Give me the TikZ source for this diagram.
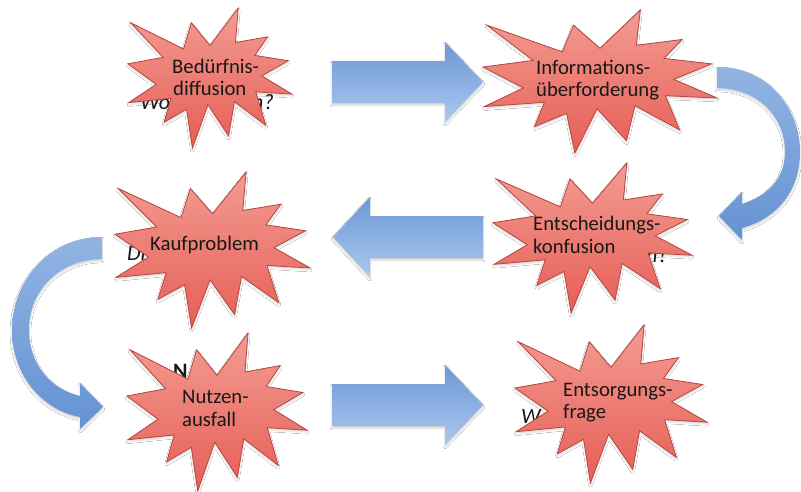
\documentclass[tikz,border=0pt]{standalone}
\usepackage{fontspec}
\setmainfont{Carlito}
\usetikzlibrary{shadows.blur}
\definecolor{starfillA}{RGB}{243,156,146}
\definecolor{starfillB}{RGB}{230,94,86}
\definecolor{starline}{RGB}{186,68,62}
\definecolor{blueA}{RGB}{108,152,213}
\definecolor{blueB}{RGB}{170,200,238}
\definecolor{blueC}{RGB}{146,180,227}
\definecolor{blueD}{RGB}{100,146,210}
\definecolor{txt}{RGB}{24,24,24}
\tikzset{
 seal/.style={draw=starline, line width=0.8pt, top color=starfillA, bottom color=starfillB, line join=miter,
   blur shadow={shadow xshift=0pt, shadow yshift=-2pt, shadow opacity=15, shadow blur steps=4}},
 blockarrow/.style={top color=blueA, bottom color=blueB, draw=none,
   blur shadow={shadow xshift=0pt, shadow yshift=-2pt, shadow opacity=20, shadow blur steps=4}},
 curvearrow/.style={top color=blueC, bottom color=blueD, draw=none,
   blur shadow={shadow xshift=0pt, shadow yshift=-2pt, shadow opacity=18, shadow blur steps=4}},
 lbl/.style={anchor=base west, inner sep=0pt, font=\fontsize{20.7}{24}\selectfont, text=txt},
 ghost/.style={anchor=base west, inner sep=0pt, font=\fontsize{22}{26}\selectfont\itshape, text=txt},
}
\newcommand\sealshape[4]{%
 \begin{scope}[shift={(#1,#2)}, x={#3pt/216}, y={-#4pt/216}]
 \path[seal] (108,58) -- (145.22,0) -- (141.55,53.25) -- (183.80,44.57) -- (167.02,73.15)
   -- (210.97,81.37) -- (176.07,104.75) -- (216,132.90) -- (168.37,129.42) -- (181.45,180.95)
   -- (140.20,144.57) -- (132.47,197.37) -- (105.32,149.35) -- (84.85,216) -- (77.15,156.27)
   -- (47.62,176.17) -- (56.67,139.37) -- (1.35,145.87) -- (37.22,117.75) -- (0,86.15)
   -- (46.27,76.17) -- (3.70,22.95) -- (73.12,63.20) -- (83.52,22.95) -- cycle;
 \end{scope}}
\begin{document}
\begin{tikzpicture}[x=1pt,y=-1pt]
\useasboundingbox (0,0) rectangle (801,492);
\fill[white] (0,0) rectangle (801,492);

% block arrows
\path[blockarrow] (332,61) -- (445,61) -- (445,42) -- (483,82) -- (445,122) -- (445,103) -- (332,103) -- cycle;
\path[blockarrow] (483,216) -- (370,216) -- (370,197) -- (333,237) -- (370,277) -- (370,258) -- (483,258) -- cycle;
\path[blockarrow] (332,384) -- (445,384) -- (445,365) -- (483,405) -- (445,445) -- (445,426) -- (332,426) -- cycle;

% curved arrows
\path[curvearrow] (717,67) .. controls (768,67) and (800,108) .. (800,152)
  .. controls (800,190) and (778,218) .. (742,228) -- (742,240) -- (719,216) -- (742,192) -- (742,204)
  .. controls (768,196) and (785,178) .. (785,152) .. controls (785,115) and (756,88) .. (717,88) -- cycle;
\path[curvearrow] (102,237) .. controls (50,237) and (12,280) .. (12,330)
  .. controls (12,375) and (42,410) .. (80,417) -- (80,429) -- (103,407) -- (80,383) -- (80,396)
  .. controls (52,390) and (29,365) .. (29,330) .. controls (29,290) and (60,259) .. (102,259) -- cycle;

% partly hidden texts behind the stars
\node[ghost] (g1a) at (140,110) {Wo};
\node[ghost] (g1b) at (252,110) {n?};
\node[ghost] (g3) at (646,262) {n?};
\node[ghost] (g4) at (127,260) {Di};
\node[ghost, font=\fontsize{22}{26}\selectfont\bfseries] (g5) at (173,378) {N};
\node[ghost] (g6) at (521,423) {W};

% stars
\sealshape{128}{8}{164}{140}
\sealshape{483}{10}{234}{143}
\sealshape{493}{163}{199}{150}
\sealshape{115}{172}{195}{156}
\sealshape{127}{333}{180}{158}
\sealshape{515}{325}{192}{158}

% labels
\node[lbl] (s1a) at (172,74) {Bedürfnis-};
\node[lbl] (s1b) at (173,96) {diffusion};
\node[lbl] (s2a) at (536,75) {Informations-};
\node[lbl] (s2b) at (536,97) {überforderung};
\node[lbl] (s3a) at (533,230) {Entscheidungs-};
\node[lbl] (s3b) at (533,253) {konfusion};
\node[lbl] (s4) at (150,251) {Kaufproblem};
\node[lbl] (s5a) at (182,403) {Nutzen-};
\node[lbl] (s5b) at (182,426) {ausfall};
\node[lbl] (s6a) at (563,396) {Entsorgungs-};
\node[lbl] (s6b) at (563,418) {frage};
\end{tikzpicture}
\end{document}
